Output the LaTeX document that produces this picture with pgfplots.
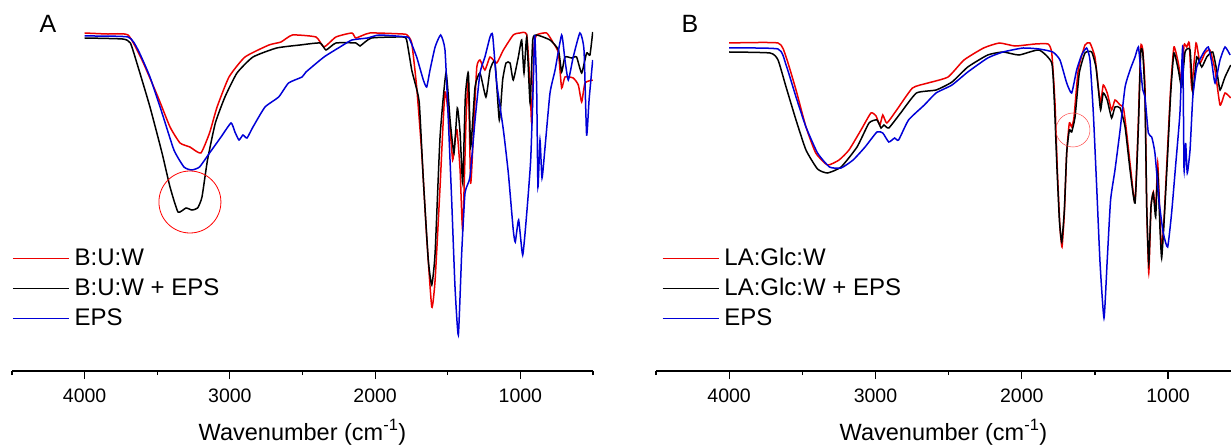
\documentclass[border=0pt]{standalone}
\usepackage{fontspec}
\setmainfont{Liberation Sans}
\usepackage{pgfplots}
\pgfplotsset{compat=1.18}

\definecolor{irred}{RGB}{236,0,0}
\definecolor{irblue}{RGB}{0,0,215}

\pgfplotsset{
  legend image code/.code={\draw[#1] (0pt,0pt) -- (56pt,0pt);},
}
\pgfplotsset{
  irpanel/.style={
    scale only axis, height=371pt,
    ymin=0, ymax=371, xmax=4500,
    x dir=reverse,
    axis x line*=bottom, axis y line=none,
    axis line style={line width=1.3pt},
    xtick={4000,3000,2000,1000}, xticklabels={4000,3000,2000,1000},
    minor xtick={4500,3500,2500,1500,500},
    tick align=outside, major tick length=8pt, minor tick length=4pt,
    every tick/.style={black, line width=1.2pt},
    xticklabel style={font=\fontsize{19.5}{23}\selectfont, anchor=base, yshift=-23pt},
    every axis x label/.style={at={(axis description cs:0.5,-0.186)}, anchor=base,
      font=\fontsize{23.5}{28}\selectfont},
    xlabel={Wavenumber (cm\textsuperscript{-1})},
    legend cell align=left,
    legend style={draw=none, fill=none, anchor=north west, inner sep=0pt, row sep=4.5pt,
      font=\fontsize{24}{28}\selectfont,
      nodes={inner sep=1pt, text height=18.5pt, text depth=5pt}},
    every axis plot/.append style={line width=1.5pt, smooth, tension=0.3},
  }
}

\begin{document}
\begin{tikzpicture}
\useasboundingbox (0,0) rectangle (1231pt,445pt);

% ---------------- panel A ----------------
\begin{axis}[irpanel, at={(12pt,74pt)}, anchor=south west, width=581pt, xmin=500,
  legend style={at={(axis description cs:0,0.338)}}]

\addplot[irred] coordinates {
(4000,338)(3850,337)(3701,336)(3605,311)(3495,274)(3412,244)(3343,228)(3275,224)(3200,218)
(3140,238)(3088,264)(3006,294)(2896,314)(2731,326)(2648,329)(2569,336)(2407,334)(2352,324)
(2270,334)(2160,338)(2132,333)(2036,338)(1808,337)(1780,336)(1748,328)(1714,284)(1679,218)
(1645,134)(1610,64)(1587,91)(1553,184)(1519,279)(1484,241)(1466,211)(1450,231)(1436,241)
(1415,201)(1397,141)(1374,251)(1358,291)(1342,188)(1319,251)(1300,304)(1278,311)(1244,301)
(1209,314)(1163,308)(1117,321)(1049,336)(1003,338)(956,336)(933,284)(922,248)(906,324)
(888,336)(819,338)(773,328)(738,318)(716,283)(693,294)(636,293)(601,286)(578,269)(555,288)
(502,291)
};
\addlegendentry{\hspace{4pt}B:U:W}

\addplot[black] coordinates {
(4000,333)(3739,332)(3685,328)(3632,304)(3550,264)(3467,218)(3412,184)(3357,159)(3302,163)
(3261,161)(3222,163)(3192,174)(3154,211)(3100,248)(3034,274)(2951,298)(2841,314)(2678,323)
(2517,326)(2380,328)(2338,321)(2270,328)(2132,328)(2104,325)(2025,333)(1808,334)(1783,331)
(1748,301)(1725,288)(1696,268)(1668,191)(1634,111)(1610,86)(1587,118)(1553,234)(1512,298)
(1484,251)(1457,218)(1434,263)(1415,238)(1397,188)(1379,274)(1358,298)(1342,224)(1312,284)
(1278,298)(1237,274)(1209,301)(1175,309)(1145,251)(1122,291)(1099,308)(1071,308)(1049,291)
(1014,314)(991,331)(975,298)(956,334)(933,268)(915,331)(888,336)(796,331)(738,321)(716,299)
(693,314)(647,313)(613,314)(578,298)(544,318)(521,316)(502,339)
};
\addlegendentry{\hspace{4pt}B:U:W + EPS}

\addplot[irblue] coordinates {
(4000,335)(3701,334)(3632,321)(3550,294)(3467,258)(3385,221)(3316,204)(3263,201)(3209,204)
(3140,218)(3061,234)(2992,248)(2965,239)(2937,231)(2910,236)(2882,233)(2841,244)(2758,264)
(2664,274)(2596,288)(2503,294)(2476,299)(2352,314)(2242,324)(2160,331)(2052,333)(1971,336)
(1780,334)(1760,331)(1714,314)(1668,291)(1645,284)(1622,301)(1587,324)(1549,336)(1519,321)
(1496,251)(1473,171)(1450,84)(1427,36)(1404,118)(1381,178)(1347,194)(1312,251)(1278,298)
(1244,314)(1209,334)(1191,336)(1163,288)(1117,241)(1083,198)(1049,141)(1035,129)(1012,151)
(984,116)(956,158)(929,211)(912,284)(901,336)(888,284)(879,184)(865,231)(851,193)(830,224)
(796,278)(761,301)(716,336)(693,311)(670,291)(636,314)(590,338)(562,321)(544,236)(527,271)
(502,311)
};
\addlegendentry{\hspace{4pt}EPS}

\draw[red, line width=0.8pt] (axis cs:3275,169) circle[radius=31pt];
\end{axis}

% ---------------- panel B ----------------
\begin{axis}[irpanel, at={(656pt,74pt)}, anchor=south west, width=575pt, xmin=570,
  legend style={at={(axis description cs:0.01,0.338)}}]

\addplot[irred] coordinates {
(4000,328)(3666,328)(3611,314)(3543,281)(3475,244)(3408,218)(3328,206)(3249,211)(3181,221)
(3099,241)(3031,258)(2996,255)(2970,246)(2950,256)(2922,248)(2855,261)(2747,283)(2641,288)
(2504,294)(2395,311)(2261,323)(2153,328)(2046,325)(1909,327)(1820,327)(1795,318)(1773,268)
(1757,201)(1739,144)(1725,124)(1709,158)(1693,218)(1675,248)(1659,244)(1643,254)(1614,301)
(1568,326)(1534,328)(1500,314)(1477,284)(1461,268)(1443,286)(1416,278)(1386,261)(1363,271)
(1328,266)(1305,263)(1283,238)(1255,201)(1226,169)(1203,251)(1187,324)(1173,321)(1158,284)
(1146,164)(1132,98)(1117,164)(1101,179)(1085,161)(1071,208)(1055,151)(1044,121)(1028,151)
(1005,218)(982,284)(960,324)(930,308)(907,288)(891,326)(873,324)(855,328)(839,284)(809,328)
(782,308)(748,318)(714,321)(679,301)(645,266)(611,278)(572,273)
};
\addlegendentry{\hspace{4pt}LA:Glc:W}

\addplot[black] coordinates {
(4000,319)(3720,318)(3666,311)(3611,284)(3543,251)(3475,221)(3396,202)(3328,198)(3235,204)
(3126,224)(3044,248)(2990,251)(2962,243)(2942,246)(2909,243)(2828,258)(2720,278)(2586,281)
(2477,289)(2369,304)(2233,316)(2128,319)(2019,316)(1882,321)(1795,308)(1777,268)(1761,208)
(1743,151)(1727,129)(1709,161)(1693,218)(1675,241)(1659,239)(1636,254)(1607,298)(1568,318)
(1522,319)(1493,304)(1474,278)(1461,261)(1443,278)(1416,271)(1386,253)(1363,264)(1328,263)
(1294,244)(1260,201)(1226,168)(1203,244)(1187,319)(1173,318)(1158,274)(1146,164)(1132,108)
(1117,164)(1101,178)(1085,154)(1071,198)(1055,141)(1044,113)(1028,148)(1005,211)(982,278)
(960,318)(930,301)(907,284)(884,319)(850,321)(831,279)(804,314)(770,304)(736,314)(695,319)
(668,301)(645,281)(611,294)(572,306)
};
\addlegendentry{\hspace{4pt}LA:Glc:W + EPS}

\addplot[irblue] coordinates {
(4000,323)(3666,322)(3611,306)(3543,274)(3475,244)(3396,218)(3314,204)(3235,203)(3153,211)
(3071,224)(2990,239)(2950,238)(2909,229)(2869,233)(2842,231)(2774,251)(2666,266)(2586,278)
(2477,286)(2369,299)(2233,313)(2128,319)(1991,323)(1882,322)(1788,319)(1739,311)(1693,288)
(1659,278)(1625,301)(1591,316)(1557,323)(1534,311)(1511,258)(1488,184)(1465,108)(1438,53)
(1416,111)(1393,171)(1363,201)(1328,241)(1294,284)(1260,301)(1226,314)(1203,324)(1187,301)
(1173,281)(1158,274)(1135,238)(1112,234)(1090,218)(1060,168)(1033,138)(1003,124)(976,158)
(947,208)(919,258)(900,324)(891,201)(880,228)(869,198)(850,221)(831,274)(804,304)(759,318)
(725,324)(701,308)(679,288)(645,311)(611,324)(576,316)
};
\addlegendentry{\hspace{4pt}EPS}

\draw[red!70, line width=0.5pt] (axis cs:1650,241) circle[radius=17pt];
\end{axis}

\node[font=\fontsize{25}{30}\selectfont] at (48pt,421pt) {A};
\node[font=\fontsize{25}{30}\selectfont] at (690pt,421pt) {B};
\end{tikzpicture}
\end{document}
